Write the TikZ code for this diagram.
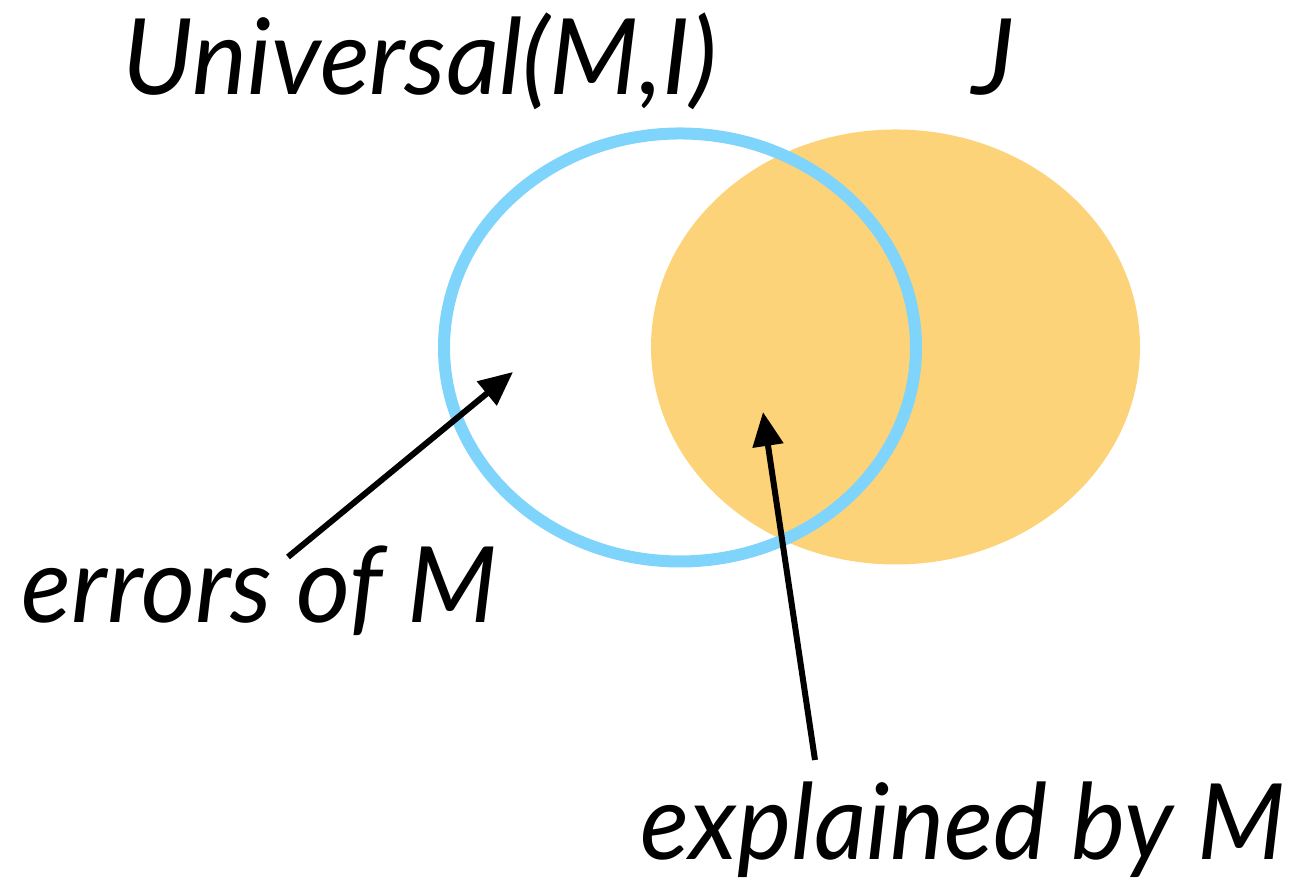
\documentclass[tikz,border=0pt]{standalone}
\usepackage{fontspec}
\setmainfont{Lato}
\usetikzlibrary{arrows.meta}
\definecolor{ringblue}{HTML}{7FD4FB}
\definecolor{setorange}{HTML}{FDD37A}
\tikzset{
  lbl/.style={font=\fontsize{30}{34}\selectfont\itshape, inner sep=0pt, anchor=base west},
  pointer/.style={line width=0.06cm, -{Triangle[length=0.34cm,width=0.30cm]}}
}
\begin{document}
\begin{tikzpicture}
\useasboundingbox (0,0) rectangle (13.02,8.93);
% J set (orange)
\fill[setorange] (8.955,5.46) ellipse [x radius=2.445, y radius=2.175];
% Universal set (blue ring)
\draw[ringblue, line width=0.12cm] (6.80,5.455) ellipse [x radius=2.36, y radius=2.14];
% labels
\node[lbl, xscale=0.985] (univ) at (1.22,7.98) {Universal(M,I)};
\node[lbl] (jset) at (9.72,7.98) {J};
\node[lbl, xscale=0.99] (err) at (0.21,2.70) {errors of M};
\node[lbl, xscale=0.97] (expl) at (6.40,0.33) {explained by M};
% pointers
\coordinate (errtail) at (2.88,3.36);
\coordinate (errtip) at (5.13,5.21);
\coordinate (expltail) at (8.15,1.33);
\coordinate (expltip) at (7.63,4.81);
\draw[pointer] (errtail) -- (errtip);
\draw[pointer] (expltail) -- (expltip);
\end{tikzpicture}
\end{document}
